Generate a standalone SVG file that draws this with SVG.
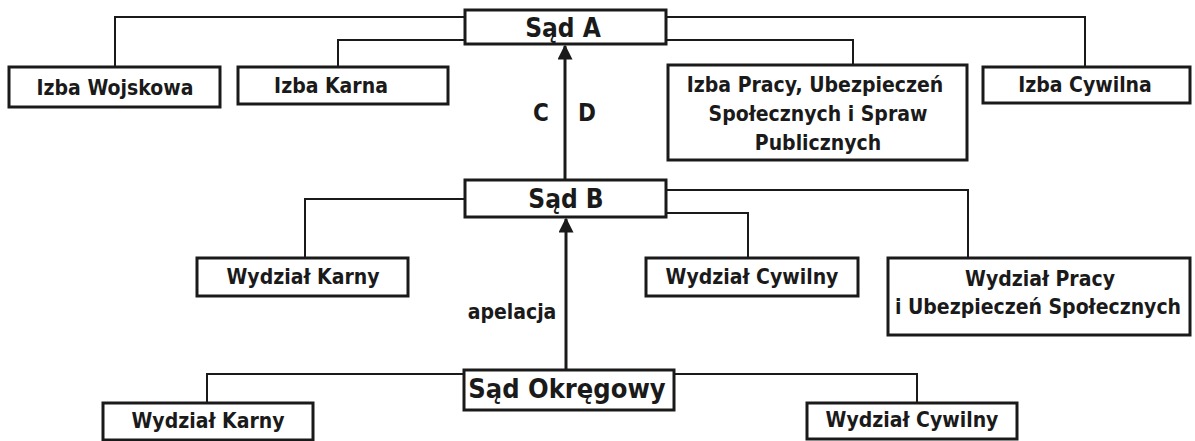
<svg xmlns="http://www.w3.org/2000/svg" width="1195" height="441" viewBox="0 0 1195 441">
<defs>
<marker id="arr" viewBox="0 0 10 10" refX="9" refY="5" markerWidth="5" markerHeight="5" orient="auto"><path d="M0,0 L10,5 L0,10 z" fill="#1a1a1a"/></marker>
</defs>
<style>
.box{fill:#fff;stroke:#1a1a1a;stroke-width:3}
.ln{fill:none;stroke:#1a1a1a;stroke-width:2}
.ar{fill:none;stroke:#1a1a1a;stroke-width:3}
text{font-family:"DejaVu Sans Condensed","Liberation Sans Narrow","Liberation Sans",sans-serif;font-weight:bold;fill:#1a1a1a;text-anchor:middle}
.s{font-size:21px}
.b{font-size:26px}
.cd{font-size:24px}
</style>
<rect width="1195" height="441" fill="#fff"/>
<g id="connectors">
<polyline class="ln" points="465,17 115,17 115,67"/>
<polyline class="ln" points="465,40 338,40 338,67"/>
<polyline class="ln" points="666,17 1085,17 1085,67"/>
<polyline class="ln" points="666,40 853,40 853,65"/>
<polyline class="ln" points="465,199 305,199 305,258"/>
<polyline class="ln" points="666,190 968,190 968,258"/>
<polyline class="ln" points="666,213 748,213 748,258"/>
<polyline class="ln" points="464,374 207,374 207,403"/>
<polyline class="ln" points="674,374 917,374 917,403"/>
<line class="ar" x1="565" y1="180" x2="565" y2="46" marker-end="url(#arr)"/>
<line class="ar" x1="566" y1="370" x2="566" y2="219" marker-end="url(#arr)"/>
<text class="cd" x="541" y="121">C</text>
<text class="cd" x="587" y="121">D</text>
<text x="512" y="319" style="font-size:21px;font-weight:600">apelacja</text>
</g>
<g id="sadA"><rect class="box" x="465" y="10" width="201" height="34"/><text class="b" x="563" y="37">Sąd A</text></g>
<g id="izbaWojskowa"><rect class="box" x="9" y="67" width="211" height="40"/><text class="s" x="115" y="95">Izba Wojskowa</text></g>
<g id="izbaKarna"><rect class="box" x="238" y="67" width="210" height="37"/><text class="s" x="331" y="93">Izba Karna</text></g>
<g id="izbaPracy"><rect class="box" x="668" y="65" width="299" height="95"/><text class="s" x="815" y="92">Izba Pracy, Ubezpieczeń</text><text class="s" x="818" y="121">Społecznych i Spraw</text><text class="s" x="818" y="150">Publicznych</text></g>
<g id="izbaCywilna"><rect class="box" x="983" y="67" width="207" height="36"/><text class="s" x="1085" y="92">Izba Cywilna</text></g>
<g id="sadB"><rect class="box" x="465" y="180" width="201" height="37"/><text class="b" x="566" y="208">Sąd B</text></g>
<g id="wydzialKarnyB"><rect class="box" x="197" y="258" width="211" height="38"/><text class="s" x="303" y="284">Wydział Karny</text></g>
<g id="wydzialCywilnyB"><rect class="box" x="646" y="258" width="212" height="38"/><text class="s" x="752" y="284">Wydział Cywilny</text></g>
<g id="wydzialPracy"><rect class="box" x="888" y="258" width="302" height="77"/><text class="s" x="1040" y="286">Wydział Pracy</text><text class="s" x="1038" y="314">i Ubezpieczeń Społecznych</text></g>
<g id="sadOkregowy"><rect class="box" x="464" y="370" width="210" height="40"/><text class="b" x="567" y="398" style="font-size:27px">Sąd Okręgowy</text></g>
<g id="wydzialKarnyO"><rect class="box" x="103" y="403" width="210" height="37"/><text class="s" x="208" y="428">Wydział Karny</text></g>
<g id="wydzialCywilnyO"><rect class="box" x="807" y="403" width="210" height="36"/><text class="s" x="912" y="427">Wydział Cywilny</text></g>
</svg>
